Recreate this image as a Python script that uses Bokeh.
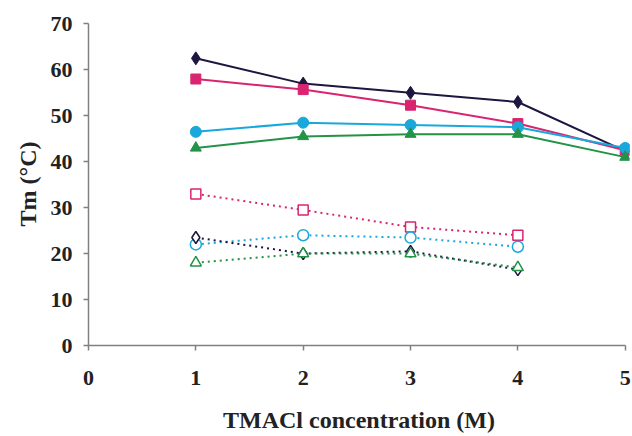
from bokeh.plotting import figure
from bokeh.models import Range1d, FixedTicker
from bokeh.embed import file_html
from bokeh.resources import INLINE

x_solid = [1, 2, 3, 4, 5]
x_dot = [1, 2, 3, 4]

black_solid = [62.5, 57.0, 55.0, 53.0, 42.3]
pink_solid = [58.0, 55.7, 52.3, 48.3, 42.5]
cyan_solid = [46.5, 48.5, 48.0, 47.5, 43.0]
green_solid = [43.0, 45.5, 46.0, 46.0, 41.0]

pink_dot = [33.0, 29.5, 25.8, 24.0]
cyan_dot = [22.0, 24.0, 23.5, 21.5]
black_dot = [23.5, 20.0, 20.5, 16.5]
green_dot = [18.0, 20.0, 20.0, 17.0]

x_ticks = [0, 1, 2, 3, 4, 5]
y_ticks = [0, 10, 20, 30, 40, 50, 60, 70]

BLACK = "#1c1640"
PINK = "#d9246f"
CYAN = "#1aa8dc"
GREEN = "#239347"

p = figure(width=632, height=436, output_backend="svg", toolbar_location=None,
           x_range=Range1d(0, 5.04), y_range=Range1d(0, 70.3),
           min_border_left=88, min_border_right=3, min_border_top=22, min_border_bottom=91)
p.outline_line_color = None
p.xgrid.visible = False
p.ygrid.visible = False
p.background_fill_color = "white"
p.border_fill_color = "white"

FONT = "Liberation Serif"
for ax in (p.xaxis[0], p.yaxis[0]):
    ax.axis_line_color = "#808080"
    ax.axis_line_width = 1.5
    ax.major_tick_line_color = "#808080"
    ax.major_tick_line_width = 1.5
    ax.major_tick_out = 5
    ax.major_tick_in = 0
    ax.minor_tick_line_color = None
    ax.major_label_text_font = FONT
    ax.major_label_text_font_style = "bold"
    ax.major_label_text_font_size = "22px"
    ax.major_label_text_color = "#222222"
    ax.axis_label_text_font = FONT
    ax.axis_label_text_font_style = "bold"
    ax.axis_label_text_font_size = "24px"
    ax.axis_label_text_color = "#222222"

p.xaxis.ticker = FixedTicker(ticks=x_ticks)
p.yaxis.ticker = FixedTicker(ticks=y_ticks)
p.xaxis.bounds = (0, 5)
p.yaxis.bounds = (0, 70)
p.xaxis.axis_label = "TMACl concentration (M)"
p.yaxis.axis_label = "Tm (°C)"
p.xaxis.major_label_standoff = 20
p.xaxis.axis_label_standoff = 19
p.yaxis.major_label_standoff = 11
p.yaxis.axis_label_standoff = 7

# dotted series
for ys, col in [(pink_dot, PINK), (cyan_dot, CYAN), (black_dot, BLACK), (green_dot, GREEN)]:
    p.line(x_dot, ys, line_color=col, line_width=2, line_dash="2 4")
for ys, col, mk, sz in [(pink_dot, PINK, "square", 10), (cyan_dot, CYAN, "circle", 11),
                        (black_dot, BLACK, "diamond", 12), (green_dot, GREEN, "triangle", 11)]:
    p.scatter(x_dot, ys, marker=mk, size=sz, line_color=col, line_width=1.5,
              fill_color="white")

# solid series
for ys, col in [(black_solid, BLACK), (pink_solid, PINK), (cyan_solid, CYAN), (green_solid, GREEN)]:
    p.line(x_solid, ys, line_color=col, line_width=2)
for ys, col, mk, sz in [(black_solid, BLACK, "diamond", 13), (pink_solid, PINK, "square", 10),
                        (cyan_solid, CYAN, "circle", 11), (green_solid, GREEN, "triangle", 11)]:
    p.scatter(x_solid, ys, marker=mk, size=sz, line_color=col, fill_color=col, line_width=1)

open("out.html", "w").write(file_html(p, INLINE))
